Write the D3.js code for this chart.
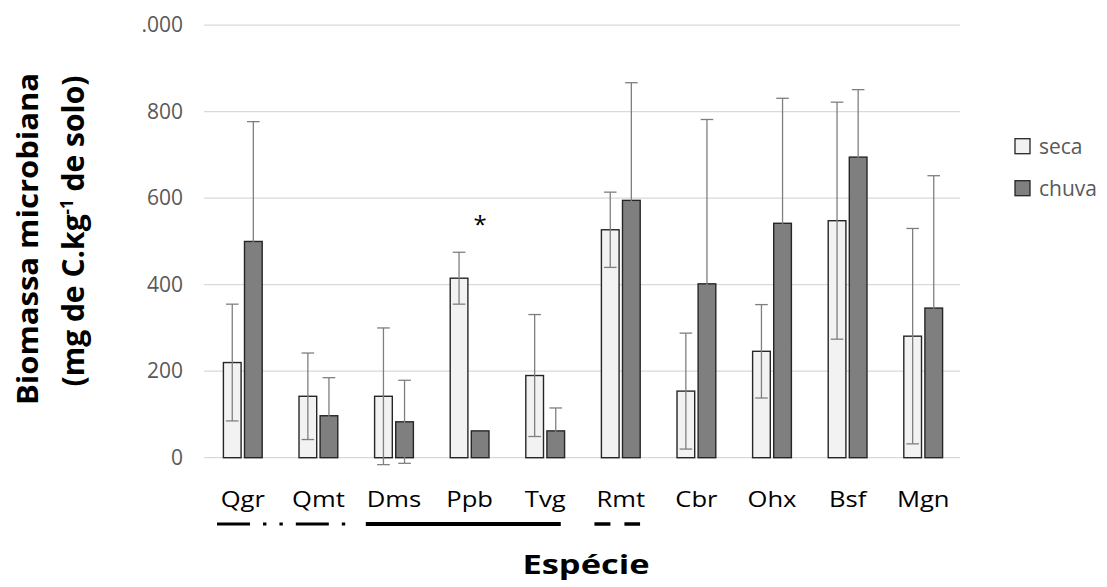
<!DOCTYPE html>
<html>
<head>
<meta charset="utf-8">
<script src="https://cdn.jsdelivr.net/npm/d3@7"></script>
<style>
  html, body { margin: 0; padding: 0; background: #ffffff; }
  svg { display: block; }
  text { font-family: "Open Sans", "Noto Sans", sans-serif; }
</style>
</head>
<body>
<svg id="chart" width="1107" height="587"></svg>
<script>
// Species (x categories)
const categories = ["Qgr", "Qmt", "Dms", "Ppb", "Tvg", "Rmt", "Cbr", "Ohx", "Bsf", "Mgn"];
// Dry season ("seca"): mean and standard deviation
const secaMean = [220, 142, 142, 415, 190, 527, 154, 246, 548, 281];
const secaSD   = [135, 100, 158, 60, 141, 87, 134, 108, 274, 249];
// Rainy season ("chuva"): mean and standard deviation (no bar for Ppb)
const chuvaMean = [500, 97, 83, 62, 62, 595, 402, 542, 695, 346];
const chuvaSD   = [277, 88, 96, null, 53, 272, 380, 289, 156, 306];
// Series and y ticks
const seriesNames = ["seca", "chuva"];
const yTicks = [0, 200, 400, 600, 800, 1000];
// Grouping lines under the species labels
const groupLines = [
  { from: "Qgr", to: "Qmt", dash: "33 13 3.4 13 3.4 13", width: 3.2 },
  { from: "Dms", to: "Tvg", dash: null, width: 4 },
  { from: "Rmt", to: "Rmt", dash: "16 14", width: 3.4 }
];
// Significance mark
const markers = [{ cat: "Ppb", series: "chuva", label: "*" }];

const fills = { seca: "#f2f2f2", chuva: "#7f7f7f" };

const svg = d3.select("#chart");
const fmt = d3.formatLocale({ decimal: ",", thousands: ".", grouping: [3], currency: ["R$", ""] }).format(",d");

const plot = { left: 205, right: 961, top: 25.2, bottom: 457.7 };

const y = d3.scaleLinear().domain([0, 1000]).range([plot.bottom, plot.top]);
const x0 = d3.scaleBand().domain(categories).range([plot.left, plot.right])
  .paddingInner(0.487).paddingOuter(0.2435);
const x1 = d3.scaleBand().domain(seriesNames).range([0, x0.bandwidth()]).paddingInner(0.161);

// Gridlines
svg.append("g").selectAll("line").data(yTicks).join("line")
  .attr("x1", plot.left - 1).attr("x2", plot.right - 1)
  .attr("y1", d => y(d)).attr("y2", d => y(d))
  .attr("stroke", "#d9d9d9").attr("stroke-width", 1.3);

// Y tick labels (the top one is partly hidden behind the title box)
const yAxis = d3.axisLeft(y).tickValues(yTicks).tickFormat(fmt).tickSize(0).tickPadding(21);
const axisX = plot.left - 1;
svg.append("defs").append("clipPath").attr("id", "tickClip")
  .append("rect").attr("x", 141.5 - axisX).attr("y", 0).attr("width", 100).attr("height", 587);
const yg = svg.append("g").attr("transform", `translate(${axisX},0)`)
  .attr("clip-path", "url(#tickClip)")
  .call(yAxis);
yg.select(".domain").remove();
yg.selectAll("text")
  .attr("font-family", "'Open Sans', sans-serif")
  .attr("font-size", 21).attr("fill", "#595959");

// Bars
const rows = categories.map((c, i) => ({
  cat: c,
  vals: [
    { s: "seca", mean: secaMean[i], sd: secaSD[i] },
    { s: "chuva", mean: chuvaMean[i], sd: chuvaSD[i] }
  ]
}));

const groups = svg.append("g").selectAll("g").data(rows).join("g")
  .attr("transform", d => `translate(${x0(d.cat)},0)`);

groups.selectAll("rect").data(d => d.vals).join("rect")
  .attr("x", d => x1(d.s))
  .attr("y", d => y(d.mean))
  .attr("width", x1.bandwidth())
  .attr("height", d => y(0) - y(d.mean))
  .attr("fill", d => fills[d.s])
  .attr("stroke", "#262626").attr("stroke-width", 1.4);

// Error bars
const capHalf = 6.3;
const cx = d => x1(d.s) + x1.bandwidth() / 2;
const eb = groups.selectAll("g.err").data(d => d.vals.filter(v => v.sd != null)).join("g")
  .attr("class", "err")
  .attr("stroke", "#7f7f7f").attr("stroke-width", 1.3);
eb.append("line")
  .attr("x1", cx).attr("x2", cx)
  .attr("y1", d => y(d.mean + d.sd)).attr("y2", d => y(d.mean - d.sd));
eb.append("line")
  .attr("x1", d => cx(d) - capHalf).attr("x2", d => cx(d) + capHalf)
  .attr("y1", d => y(d.mean + d.sd)).attr("y2", d => y(d.mean + d.sd));
eb.append("line")
  .attr("x1", d => cx(d) - capHalf).attr("x2", d => cx(d) + capHalf)
  .attr("y1", d => y(d.mean - d.sd)).attr("y2", d => y(d.mean - d.sd));

// Significance asterisk
svg.append("g").selectAll("text").data(markers).join("text")
  .attr("x", d => x0(d.cat) + x1(d.series) + x1.bandwidth() / 2)
  .attr("y", d => {
    const i = categories.indexOf(d.cat);
    return y(secaMean[i] + secaSD[i]) - 19;
  })
  .attr("text-anchor", "middle")
  .attr("font-size", 24).attr("fill", "#000")
  .text(d => d.label);

// Species labels (wide face)
svg.append("g").selectAll("text").data(categories).join("text")
  .attr("transform", d => `translate(${x0(d) + x0.bandwidth() / 2},507) scale(1.22,1)`)
  .attr("text-anchor", "middle")
  .attr("font-size", 21).attr("fill", "#000")
  .text(d => d);

// Grouping lines under species labels (extent relative to band centres, in steps)
const step = x0.step();
const lineExt = {
  Qgr: [-0.341, 0.356], Dms: [-0.373, 0.206], Rmt: [-0.349, 0.255]
};
svg.append("g").selectAll("line").data(groupLines).join("line")
  .attr("x1", d => x0(d.from) + x0.bandwidth() / 2 + lineExt[d.from][0] * step)
  .attr("x2", d => x0(d.to) + x0.bandwidth() / 2 + lineExt[d.from][1] * step)
  .attr("y1", 524).attr("y2", 524)
  .attr("stroke", "#000")
  .attr("stroke-width", d => d.width)
  .attr("stroke-dasharray", d => d.dash);

// X axis title
svg.append("text")
  .attr("x", 586).attr("y", 574)
  .attr("text-anchor", "middle")
  .attr("font-size", 27).attr("font-weight", "bold").attr("fill", "#000")
  .attr("textLength", 127).attr("lengthAdjust", "spacingAndGlyphs")
  .text("Espécie");

// Y axis title (two lines)
const yt = svg.append("g").attr("font-weight", "bold").attr("fill", "#000").attr("font-size", 29);
yt.append("text")
  .attr("transform", "translate(38,239) rotate(-90)")
  .attr("text-anchor", "middle")
  .attr("textLength", 332).attr("lengthAdjust", "spacingAndGlyphs")
  .text("Biomassa microbiana");
const t2 = yt.append("text")
  .attr("transform", "translate(84,231) rotate(-90)")
  .attr("text-anchor", "middle")
  .attr("font-size", 30);
t2.append("tspan").text("(mg de C.kg");
t2.append("tspan").attr("font-size", 17).attr("dy", -11).text("-1");
t2.append("tspan").attr("dy", 11).text(" de solo)");

// Legend
const legend = svg.append("g").selectAll("g").data(seriesNames).join("g")
  .attr("transform", (d, i) => `translate(1015,${146.7 + i * 42})`);
legend.append("rect")
  .attr("x", 0).attr("y", -8).attr("width", 15).attr("height", 15)
  .attr("fill", d => fills[d]).attr("stroke", "#262626").attr("stroke-width", 1.3);
legend.append("text")
  .attr("x", 24).attr("y", 7)
  .attr("font-size", 21).attr("fill", "#595959")
  .text(d => d);
</script>
</body>
</html>
